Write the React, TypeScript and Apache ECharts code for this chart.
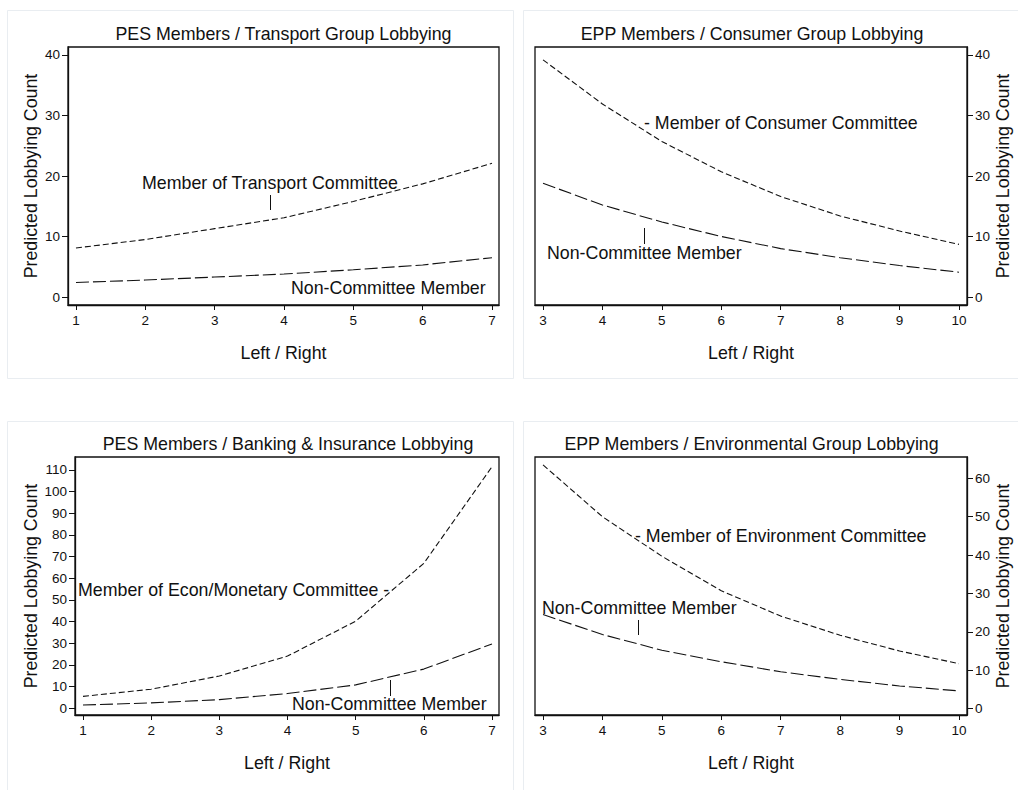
import React, { useEffect, useRef } from "react";
import * as echarts from "echarts";

// ---------- data ----------
const xLR1 = [1, 2, 3, 4, 5, 6, 7];
const xLR2 = [3, 4, 5, 6, 7, 8, 9, 10];

const transportMember = [8.1, 9.5, 11.3, 13.1, 15.8, 18.7, 22.1];
const transportNon = [2.4, 2.8, 3.3, 3.8, 4.5, 5.3, 6.5];

const consumerMember = [39.2, 31.9, 25.7, 20.7, 16.6, 13.4, 10.9, 8.7];
const consumerNon = [18.8, 15.2, 12.4, 10.0, 8.0, 6.5, 5.2, 4.1];

const econMember = [5.5, 8.8, 14.9, 24.1, 40.2, 66.9, 111.5];
const econNon = [1.5, 2.5, 4.0, 6.8, 10.8, 18.1, 29.7];

const envMember = [63.5, 50.0, 39.7, 30.7, 24.1, 19.1, 15.0, 11.7];
const envNon = [24.5, 19.3, 15.2, 12.2, 9.6, 7.6, 5.9, 4.6];

const yTicks40 = [0, 10, 20, 30, 40];
const yTicks110 = [0, 10, 20, 30, 40, 50, 60, 70, 80, 90, 100, 110];
const yTicks60 = [0, 10, 20, 30, 40, 50, 60];

const titles = [
  "PES Members / Transport Group Lobbying",
  "EPP Members / Consumer Group Lobbying",
  "PES Members / Banking & Insurance Lobbying",
  "EPP Members / Environmental Group Lobbying",
];

const FONT = "'Liberation Sans', Arial, Helvetica, sans-serif";
const INK = "#111";
const BIG = 17.8;
const SMALL = 13.5;

function pairs(xs: number[], ys: number[]) {
  return xs.map((x, i) => [x, ys[i]]);
}

export default function App() {
  const ref = useRef<HTMLDivElement>(null);
  useEffect(() => {
    document.body.style.margin = "0";
    const chart = echarts.init(ref.current!, undefined, { renderer: "svg" });

    const grids = [
      { left: 68, top: 47, width: 431, height: 258 },
      { left: 535, top: 47, width: 432, height: 258 },
      { left: 75, top: 457, width: 424, height: 258 },
      { left: 535, top: 457, width: 432, height: 258 },
    ];

    const xRanges = [
      [0.885, 7.101, xLR1],
      [2.865, 10.135, xLR2],
      [0.883, 7.103, xLR1],
      [2.865, 10.135, xLR2],
    ] as any[];
    const yRanges = [
      [-1.32, 41.32, yTicks40, "left", 28],
      [-1.32, 41.32, yTicks40, "right", 27],
      [-3.09, 116.0, yTicks110, "left", 35],
      [-1.67, 65.56, yTicks60, "right", 27],
    ] as any[];

    const xAxes = xRanges.map((r, i) => ({
      type: "value",
      gridIndex: i,
      min: r[0],
      max: r[1],
      name: "Left / Right",
      nameLocation: "middle",
      nameGap: 39,
      nameTextStyle: { fontFamily: FONT, fontSize: BIG, color: INK },
      splitLine: { show: false },
      axisLine: { show: true, onZero: false, lineStyle: { color: INK, width: 1.3 } },
      axisTick: {
        show: true,
        customValues: r[2],
        length: 5,
        lineStyle: { color: INK, width: 1 },
      },
      axisLabel: {
        customValues: r[2],
        fontFamily: FONT,
        fontSize: SMALL,
        color: INK,
        margin: 8,
      },
    }));

    const yAxes = yRanges.map((r, i) => ({
      type: "value",
      gridIndex: i,
      min: r[0],
      max: r[1],
      position: r[3],
      name: "Predicted Lobbying Count",
      nameLocation: "middle",
      nameGap: r[4],
      nameTextStyle: { fontFamily: FONT, fontSize: BIG, color: INK },
      splitLine: { show: false },
      axisLine: { show: true, onZero: false, lineStyle: { color: INK, width: 1.3 } },
      axisTick: {
        show: true,
        customValues: r[2],
        length: 6,
        lineStyle: { color: INK, width: 1 },
      },
      axisLabel: {
        customValues: r[2],
        fontFamily: FONT,
        fontSize: SMALL,
        color: INK,
        margin: 8,
      },
    }));

    const memberDash = [6, 3];
    const nonDash = [13, 4];
    const mk = (name: string, idx: number, data: number[][], dash: number[]) => ({
      type: "line",
      name,
      xAxisIndex: idx,
      yAxisIndex: idx,
      data,
      symbol: "none",
      smooth: false,
      lineStyle: { color: INK, width: 1.1, type: dash },
    });

    const series = [
      mk("Member of Transport Committee", 0, pairs(xLR1, transportMember), memberDash),
      mk("Non-Committee Member", 0, pairs(xLR1, transportNon), nonDash),
      mk("Member of Consumer Committee", 1, pairs(xLR2, consumerMember), memberDash),
      mk("Non-Committee Member", 1, pairs(xLR2, consumerNon), nonDash),
      mk("Member of Econ/Monetary Committee", 2, pairs(xLR1, econMember), memberDash),
      mk("Non-Committee Member", 2, pairs(xLR1, econNon), nonDash),
      mk("Member of Environment Committee", 3, pairs(xLR2, envMember), memberDash),
      mk("Non-Committee Member", 3, pairs(xLR2, envNon), nonDash),
    ];

    const titleCenters = [
      [283.5, 25],
      [752, 25],
      [288, 435],
      [751.5, 435],
    ];

    const txt = (text: string, x: number, y: number) => ({
      type: "text",
      x,
      y,
      style: {
        text,
        fill: INK,
        font: `${BIG}px ${FONT}`,
        textVerticalAlign: "middle",
        textAlign: "left",
      },
      z: 10,
    });
    const vline = (x: number, y1: number, y2: number) => ({
      type: "line",
      shape: { x1: x, y1, x2: x, y2 },
      style: { stroke: INK, lineWidth: 1 },
      z: 10,
    });
    const frame = (x: number, y: number, w: number, h: number) => ({
      type: "rect",
      shape: { x, y, width: w, height: h },
      style: { fill: "none", stroke: "#e9edf1", lineWidth: 1 },
      z: -1,
    });

    const gridBoxes = grids.map((g) => ({
      type: "rect",
      shape: { x: g.left, y: g.top, width: g.width, height: g.height },
      style: { fill: "none", stroke: INK, lineWidth: 1.3 },
      z: 5,
    }));

    chart.setOption({
      animation: false,
      backgroundColor: "#fff",
      textStyle: { fontFamily: FONT },
      title: titles.map((t, i) => ({
        text: t,
        left: titleCenters[i][0],
        top: titleCenters[i][1],
        textAlign: "center",
        padding: 0,
        textStyle: { fontFamily: FONT, fontSize: BIG, fontWeight: "normal", color: INK },
      })),
      grid: grids,
      xAxis: xAxes,
      yAxis: yAxes,
      series,
      graphic: [
        frame(7.5, 10.5, 506, 368),
        frame(523.5, 10.5, 520, 368),
        frame(7.5, 421.5, 506, 400),
        frame(523.5, 421.5, 520, 400),
        ...gridBoxes,
        txt("Member of Transport Committee", 142, 183),
        vline(270.5, 195, 210),
        txt("Non-Committee Member", 291, 288),
        txt("- Member of Consumer Committee", 644, 123),
        txt("Non-Committee Member", 547, 253),
        vline(644.5, 228, 244),
        txt("Member of Econ/Monetary Committee -", 78, 590),
        txt("Non-Committee Member", 292, 704),
        vline(390.5, 680, 696),
        txt("- Member of Environment Committee", 635, 536),
        txt("Non-Committee Member", 542, 608),
        vline(638.5, 620, 635),
      ],
    });
    return () => chart.dispose();
  }, []);
  return <div ref={ref} style={{ width: 1018, height: 790 }} />;
}
